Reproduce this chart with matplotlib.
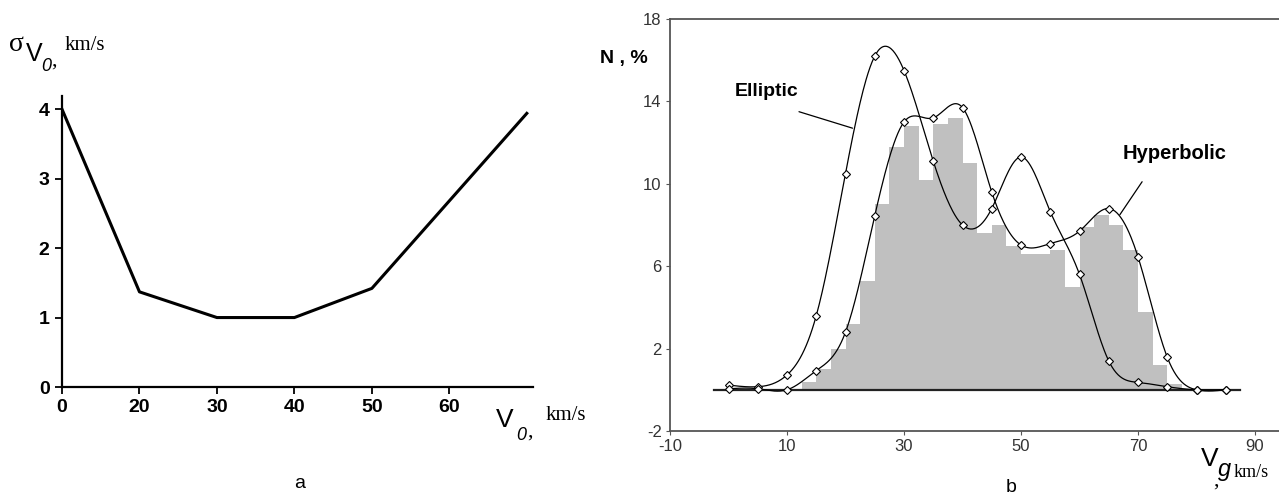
import numpy as np
import matplotlib.pyplot as plt

plt.rcParams['font.family'] = ['Liberation Sans', 'DejaVu Sans']
plt.rcParams['axes.unicode_minus'] = False

W, H = 1279, 497

# panel a
v0 = [0, 20, 30, 40, 50, 70]
sigma_v0 = [4.0, 1.37, 1.0, 1.0, 1.42, 3.94]
a_xticks = [0, 20, 30, 40, 50, 60]
a_yticks = [0, 1, 2, 3, 4]

# panel b
vg = [0, 5, 10, 15, 20, 25, 30, 35, 40, 45, 50, 55, 60, 65, 70, 75, 80, 85]
elliptic = [0.23, 0.15, 0.72, 3.6, 10.5, 16.2, 15.5, 11.1, 8.0, 8.8, 11.3, 8.65,
            5.6, 1.4, 0.36, 0.15, 0.0, 0.0]
hyperbolic = [0.05, 0.05, 0.0, 0.93, 2.8, 8.45, 13.0, 13.2, 13.7, 9.6, 7.03, 7.1,
              7.7, 8.8, 6.45, 1.58, 0.0, 0.0]
hist_edges = [12.5, 15, 17.5, 20, 22.5, 25, 27.5, 30, 32.5, 35, 37.5, 40, 42.5,
              45, 47.5, 50, 52.5, 55, 57.5, 60, 62.5, 65, 67.5, 70, 72.5, 75, 77.5]
hist_n = [0.4, 1.0, 2.0, 3.2, 5.3, 9.0, 11.8, 12.8, 10.2, 12.9, 13.2, 11.0, 7.6,
          8.0, 7.0, 6.6, 6.6, 6.8, 5.0, 7.9, 8.5, 8.0, 6.8, 3.8, 1.2, 0.3]
base_x = [-2.5, 87.5]
base_y = [0, 0]
b_xticks = [-10, 10, 30, 50, 70, 90]
b_yticks = [-2, 2, 6, 10, 14, 18]


def spline(x, y, n=500):
    # natural cubic spline, like the smoothed curves of the original
    x = np.asarray(x, float)
    y = np.asarray(y, float)
    h = np.diff(x)
    k = len(x)
    A = np.zeros((k, k))
    r = np.zeros(k)
    A[0, 0] = A[-1, -1] = 1
    for i in range(1, k - 1):
        A[i, i - 1] = h[i - 1]
        A[i, i] = 2 * (h[i - 1] + h[i])
        A[i, i + 1] = h[i]
        r[i] = 3 * ((y[i + 1] - y[i]) / h[i] - (y[i] - y[i - 1]) / h[i - 1])
    c = np.linalg.solve(A, r)
    xs = np.linspace(x[0], x[-1], n)
    j = np.clip(np.searchsorted(x, xs) - 1, 0, k - 2)
    dx = xs - x[j]
    b = (y[j + 1] - y[j]) / h[j] - h[j] * (2 * c[j] + c[j + 1]) / 3
    d = (c[j + 1] - c[j]) / (3 * h[j])
    return xs, y[j] + b * dx + c[j] * dx ** 2 + d * dx ** 3


def px(x, y):
    return x / W, 1 - y / H


fig = plt.figure(figsize=(W / 100, H / 100), dpi=100)

# ---- panel a
ax1 = fig.add_axes([62 / W, 1 - 387 / H, (533 - 62) / W, (387 - 96) / H])


def fwd(x):
    x = np.asarray(x, float)
    return np.where(x < 20, 10 + x / 2, x)


def inv(x):
    x = np.asarray(x, float)
    return np.where(x < 20, (x - 10) * 2, x)


ax1.set_xscale('function', functions=(fwd, inv))
ax1.plot(v0, sigma_v0, color='black', lw=2.2)
ax1.set_xlim(0, 70.8)
ax1.set_ylim(0, 4.19)
ax1.set_xticks(a_xticks)
ax1.set_xticklabels([str(t) for t in a_xticks])
ax1.set_yticks(a_yticks)
ax1.xaxis.set_minor_locator(plt.NullLocator())
for s in ['top', 'right']:
    ax1.spines[s].set_visible(False)
for s in ['left', 'bottom']:
    ax1.spines[s].set_linewidth(1.6)
ax1.tick_params(length=5, width=1.3, labelsize=14, pad=4)
for lb in ax1.get_xticklabels() + ax1.get_yticklabels():
    lb.set_fontweight('bold')

fig.text(*px(9, 51), 'σ', family='Liberation Serif', fontsize=20, va='baseline')
fig.text(*px(26, 61), 'V', fontsize=18, va='baseline')
fig.text(*px(41, 71), '0', fontsize=13, style='italic', va='baseline')
fig.text(*px(51, 66), ',', family='Liberation Serif', fontsize=16, va='baseline')
fig.text(*px(65, 50), 'km/s', family='Liberation Serif', fontsize=15, va='baseline')

fig.text(*px(496, 427), 'V', fontsize=19, va='baseline')
fig.text(*px(516, 440), '0', fontsize=13, style='italic', va='baseline')
fig.text(*px(527, 437), ',', family='Liberation Serif', fontsize=16, va='baseline')
fig.text(*px(546, 420), 'km/s', family='Liberation Serif', fontsize=15, va='baseline')
fig.text(*px(300, 484), 'a', fontsize=14, ha='center', va='center')

# ---- panel b
ax2 = fig.add_axes([670 / W, 1 - 431 / H, (W - 670) / W, (431 - 19) / H])
ax2.stairs(hist_n, hist_edges, fill=True, color='#c0c0c0', lw=0)
ax2.plot(base_x, base_y, color='#222222', lw=1.6)
xs, ys = spline(vg, elliptic)
ax2.plot(xs, ys, color='black', lw=0.9)
xs, ys = spline(vg, hyperbolic)
ax2.plot(xs, ys, color='black', lw=0.9)
ax2.plot(vg, elliptic, 'D', ms=4.5, mfc='white', mec='black', mew=0.8)
ax2.plot(vg, hyperbolic, 'D', ms=4.5, mfc='white', mec='black', mew=0.8)
ax2.set_xlim(-10, 94.1)
ax2.set_ylim(-2, 18)
ax2.set_xticks(b_xticks)
ax2.set_yticks(b_yticks)
ax2.spines['right'].set_visible(False)
for s in ['left', 'top', 'bottom']:
    ax2.spines[s].set_color('#555555')
    ax2.spines[s].set_linewidth(1.3)
ax2.tick_params(length=3, width=0.8, color='#555555', labelsize=12,
                labelcolor='#333333', pad=3)

# labels with their leader lines
ax2.text(6.6, 14.46, 'Elliptic', fontsize=14, fontweight='bold',
         ha='center', va='center')
ax2.annotate('', xy=(21.2, 12.7), xytext=(12.05, 13.5),
             arrowprops=dict(arrowstyle='-', color='black', lw=0.9,
                             shrinkA=0, shrinkB=0))
ax2.text(76.3, 11.45, 'Hyperbolic', fontsize=14.5, fontweight='bold',
         ha='center', va='center')
ax2.annotate('', xy=(66.9, 8.5), xytext=(70.7, 10.1),
             arrowprops=dict(arrowstyle='-', color='black', lw=0.9,
                             shrinkA=0, shrinkB=0))

fig.text(*px(600, 58), 'N , %', fontsize=14, fontweight='bold', va='center')
fig.text(*px(1201, 466), 'V', fontsize=19, va='baseline')
fig.text(*px(1218, 476), 'g', fontsize=17, style='italic', va='baseline')
fig.text(*px(1213, 486), ',', family='Liberation Serif', fontsize=16, va='baseline')
fig.text(*px(1234, 477), 'km/s', family='Liberation Serif', fontsize=13, va='baseline')
fig.text(*px(1011, 487), 'b', fontsize=14, ha='center', va='center')

fig.savefig('out.png', dpi=100)
